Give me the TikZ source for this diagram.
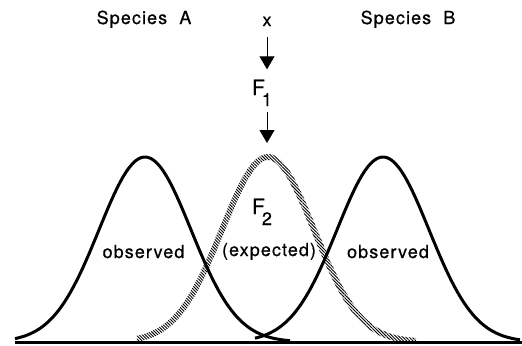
\documentclass[tikz,border=0pt]{standalone}
\usepackage{fontspec}
\newfontfamily\labelfont[LetterSpace=6,FakeBold=0.6]{TeX Gyre Heros}
\newfontfamily\symfont[FakeBold=0.6]{TeX Gyre Heros}
\usepackage{tikz}
\usetikzlibrary{arrows.meta}
\usetikzlibrary{patterns.meta}

\begin{document}
\begin{tikzpicture}[x=0.5pt,y=0.5pt,
		declare function={g(\t)=185*exp(-0.5*((\t)/46)*((\t)/46));
			gp(\t)=-((\t)/46)/46*g(\t);
			nrm(\t)=sqrt(1+gp(\t)*gp(\t));},
		curve/.style={line width=1.5pt,line join=round},
		hatch/.style={pattern={Lines[angle=-45,distance=1.1pt,line width=0.45pt]}},
		flow/.style={line width=0.5pt,-{Triangle[width=7.5pt,length=6.5pt]}},
		label/.style={font=\labelfont\fontsize{9}{10}\selectfont,inner sep=0pt,anchor=base},
		fsym/.style={font=\symfont\fontsize{10.5}{12}\selectfont,inner sep=0pt,anchor=base}]
		\useasboundingbox (0,0) rectangle (522,345);
		% Species names and the cross on top
		\node[label] (spA) at (144,321) {Species\ \ A};
		\node[label] (spB) at (408,321) {Species\ \ B};
		\node[label] (xlab) at (267,319) {x};
		\node[fsym] (fone) at (262,250) {F\kern-1.5pt\raisebox{-5.5pt}{\fontsize{9}{10}\selectfont 1}};
		% Peak of the expected hybrid curve
		\coordinate (top) at (267,188);
		\draw[flow,shorten <=5.5pt,shorten >=5pt] (xlab.base) -- (xlab |- fone.north);
		\draw[flow,shorten <=3pt,shorten >=7pt] (xlab |- fone.south) -- (top);
		% Expected F2 curve, a hatched band
		\fill[hatch] plot[domain=-131:148,samples=90,variable=\t]
			({268+\t-3*gp(\t)/nrm(\t)},{3+g(\t)+3/nrm(\t)})
			-- plot[domain=148:-131,samples=90,variable=\t]
			({268+\t+3*gp(\t)/nrm(\t)},{3+g(\t)-3/nrm(\t)}) -- cycle;
		% Observed curves of both species
		\draw[curve] plot[domain=15:290,samples=90] (\x,{3+g(\x-145)});
		\draw[curve] plot[domain=255:520,samples=90] (\x,{3+g(\x-383)});
		% Base line
		\draw[line width=1.5pt] (15,3) coordinate (Left End) -- (522,3)
			coordinate (Right End);
		\node[fsym] (ftwo) at (262,131) {F\kern-1.5pt\raisebox{-5.5pt}{\fontsize{9}{10}\selectfont 2}};
		\node[label] (exp) at (269,89) {(expected)};
		\node[label] (obsA) at (143.5,87) {observed};
		\node[label] (obsB) at (388,87) {observed};
	\end{tikzpicture}
\end{document}
